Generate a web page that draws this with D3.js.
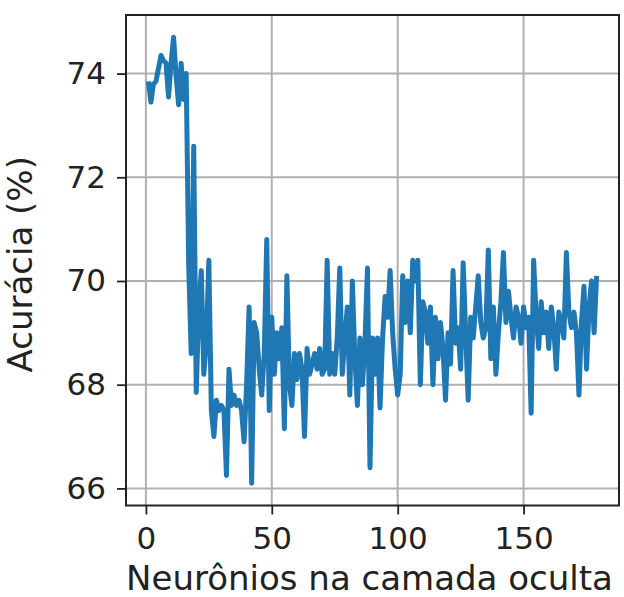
<!DOCTYPE html>
<html>
<head>
<meta charset="utf-8">
<script src="https://cdn.jsdelivr.net/npm/d3@7"></script>
<style>
    body { margin: 0; background: #fff; }
    text { font-family: 'DejaVu Sans', sans-serif; fill: #222; }
</style>
</head>
<body>
<div id="graph"></div>
<script>

// accuracy (%) for 1..179 neurons in the hidden layer
const accuracy = [
    73.85, 73.45, 73.8, 73.85, 74.1, 74.35, 74.25, 74.2, 73.55, 74.2,
    74.7, 73.95, 73.4, 74.2, 73.5, 74.0, 70.3, 68.6, 72.6, 67.85,
    69.5, 70.2, 68.2, 68.8, 70.4, 67.5, 67.0, 67.7, 67.5, 67.6,
    67.5, 66.25, 68.3, 67.6, 67.8, 67.6, 67.7, 67.5, 66.9, 68.0,
    69.5, 66.1, 69.2, 69.0, 68.3, 67.8, 68.6, 70.8, 67.5, 69.3,
    68.2, 69.0, 68.5, 69.1, 67.15, 70.1, 68.0, 67.6, 68.6, 68.1,
    68.6, 68.3, 67.0, 68.7, 68.2, 68.4, 68.6, 68.3, 68.7, 68.2,
    68.3, 70.4, 68.2, 68.6, 68.2, 68.9, 70.25, 68.2, 68.9, 69.5,
    67.8, 70.0, 68.5, 67.6, 68.9, 68.0, 68.8, 70.25, 66.4, 68.9,
    68.2, 68.9, 67.55, 68.9, 69.7, 69.3, 70.2, 69.0, 68.3, 67.8,
    68.2, 70.1, 69.2, 70.0, 69.0, 70.4, 70.0, 70.4, 68.0, 69.6,
    69.4, 68.8, 69.5, 68.0, 69.3, 68.5, 69.2, 68.7, 67.7, 69.0,
    68.4, 70.2, 68.8, 69.1, 68.3, 70.35, 69.0, 67.7, 69.3, 68.9,
    69.5, 70.1, 69.2, 68.9, 69.1, 70.6, 68.5, 69.5, 68.2, 69.0,
    69.6, 70.55, 69.2, 69.8, 69.3, 68.9, 69.5, 69.3, 68.8, 69.5,
    69.1, 69.3, 67.45, 70.4, 69.3, 68.7, 69.6, 69.0, 69.4, 68.7,
    69.5, 69.1, 68.3, 69.4, 69.2, 68.9, 70.55, 69.4, 69.1, 69.4,
    69.0, 67.8, 69.2, 69.9, 68.3, 69.5, 70.0, 69.0, 70.1
];

const xTicks = [0, 50, 100, 150];
const yTicks = [66, 68, 70, 72, 74];

const xLabel = 'Neurônios na camada oculta';
const yLabel = 'Acurácia (%)';

const ChartModule = (() => {

    const svgWidth = 624;
    const svgHeight = 597;
    const margin = {top: 15, right: 5, bottom: 91.5, left: 126};
    const width = svgWidth - margin.left - margin.right;
    const height = svgHeight - margin.top - margin.bottom;

    // matplotlib style 5% padding around the data
    const padded = (lo, hi) => {
        const p = 0.05 * (hi - lo);
        return [lo - p, hi + p];
    };

    const draw = () => {
        const data = accuracy.map((v, i) => ({n: i + 1, acc: v}));

        const svg = d3.select('#graph')
            .append('svg')
            .attr('width', svgWidth)
            .attr('height', svgHeight)
            .append('g')
            .attr('transform', `translate(${margin.left}, ${margin.top})`);

        const x = d3.scaleLinear()
            .domain(padded(d3.min(data, d => d.n), d3.max(data, d => d.n)))
            .range([0, width]);

        const y = d3.scaleLinear()
            .domain(padded(d3.min(accuracy), d3.max(accuracy)))
            .range([height, 0]);

        // grid
        svg.append('g')
            .selectAll('line')
            .data(xTicks)
            .join('line')
            .attr('x1', d => x(d)).attr('x2', d => x(d))
            .attr('y1', 0).attr('y2', height)
            .style('stroke', '#b0b0b0')
            .style('stroke-width', 2);

        svg.append('g')
            .selectAll('line')
            .data(yTicks)
            .join('line')
            .attr('x1', 0).attr('x2', width)
            .attr('y1', d => y(d)).attr('y2', d => y(d))
            .style('stroke', '#b0b0b0')
            .style('stroke-width', 2);

        // axes
        const xAxis = svg.append('g')
            .attr('transform', `translate(0, ${height})`)
            .call(d3.axisBottom(x).tickValues(xTicks).tickSize(9).tickPadding(12));

        const yAxis = svg.append('g')
            .call(d3.axisLeft(y).tickValues(yTicks).tickSize(9).tickPadding(11));

        [xAxis, yAxis].forEach(a => {
            a.select('.domain').remove();
            a.selectAll('line').style('stroke', '#222').style('stroke-width', 1.8);
            a.selectAll('text')
                .style('font-family', "'DejaVu Sans', sans-serif")
                .style('font-size', '31px')
                .style('fill', '#222');
        });

        // the line
        svg.append('path')
            .datum(data)
            .attr('fill', 'none')
            .style('stroke', '#1f77b4')
            .style('stroke-width', 5)
            .style('stroke-linejoin', 'round')
            .attr('d', d3.line()
                .x(d => x(d.n))
                .y(d => y(d.acc)));

        // frame
        svg.append('rect')
            .attr('width', width)
            .attr('height', height)
            .attr('fill', 'none')
            .style('stroke', '#222')
            .style('stroke-width', 2);

        // axis labels
        svg.append('text')
            .attr('x', width / 2 - 3)
            .attr('y', height + 84)
            .attr('text-anchor', 'middle')
            .style('font-size', '34px')
            .text(xLabel);

        svg.append('text')
            .attr('transform', `translate(${-94}, ${height / 2 + 4}) rotate(-90)`)
            .attr('text-anchor', 'middle')
            .style('font-size', '34px')
            .text(yLabel);
    };

    return { draw };
})();

ChartModule.draw();
</script>
</body>
</html>
